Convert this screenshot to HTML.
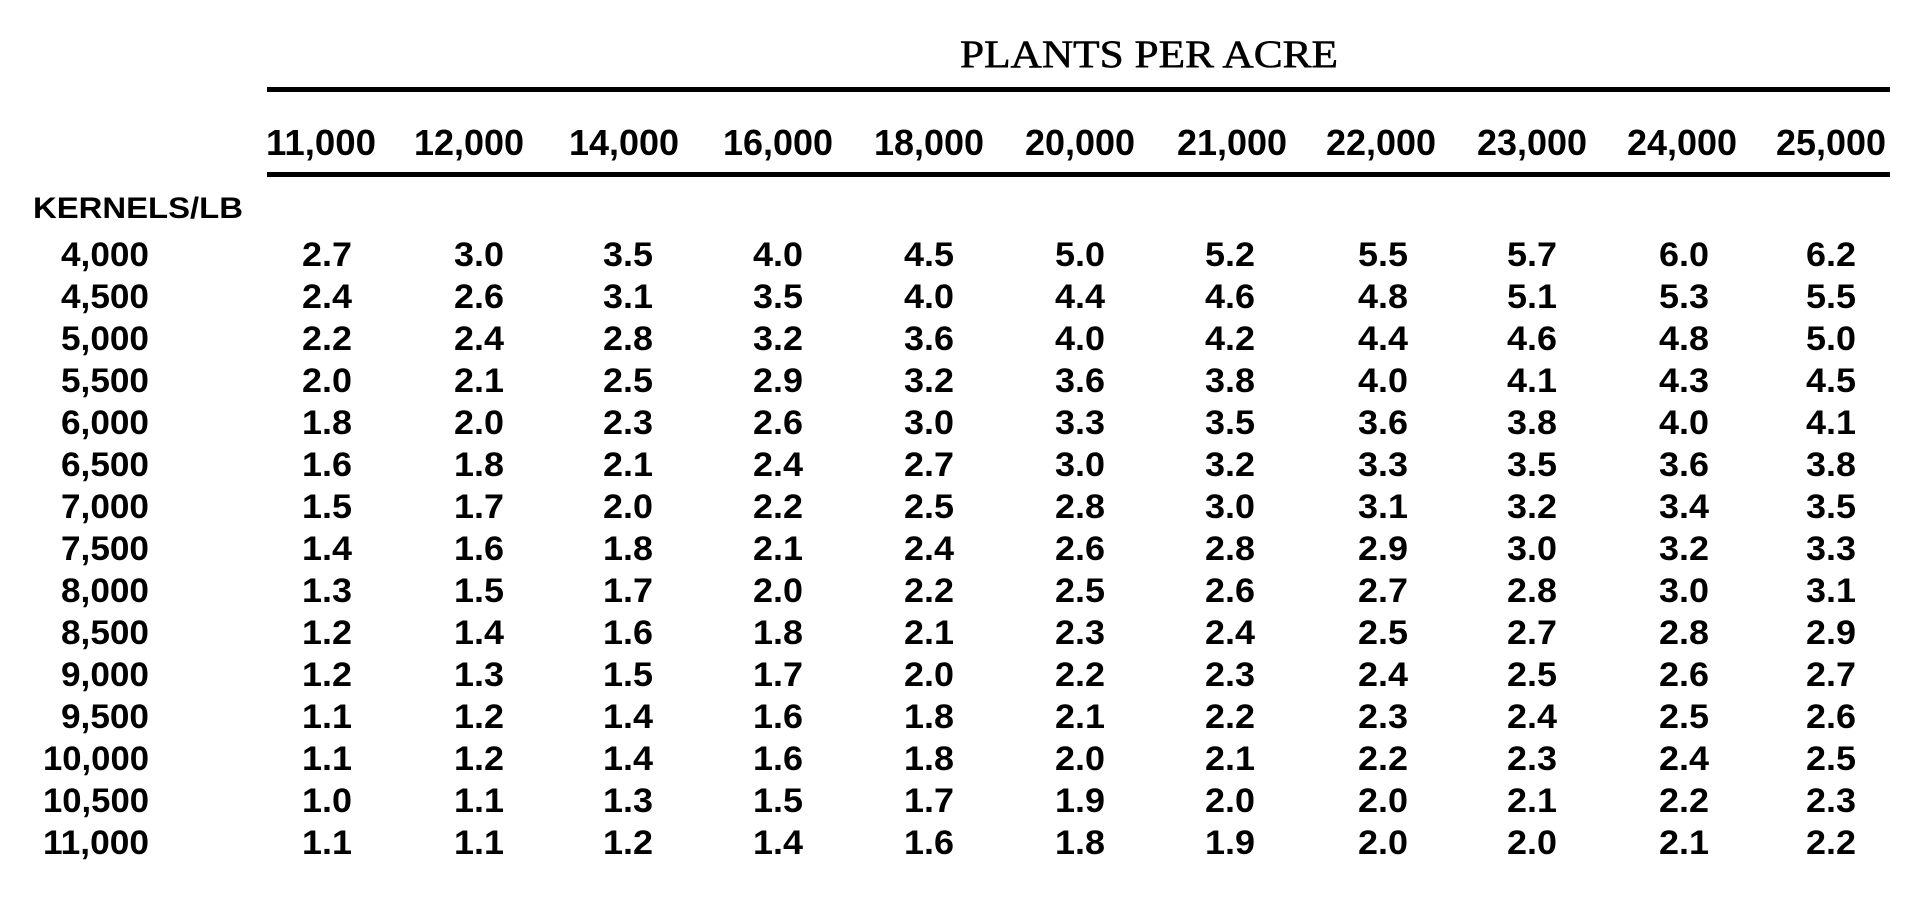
<!DOCTYPE html>
<html><head><meta charset="utf-8"><style>
html,body{margin:0;padding:0;background:#fff;}
svg{display:block;}
.h{font-family:"Liberation Sans",Arial,sans-serif;font-weight:bold;font-size:36px;fill:#000;}
.v{font-family:"Liberation Sans",Arial,sans-serif;font-weight:bold;font-size:34px;fill:#000;}
.t{font-family:"Liberation Serif","Times New Roman",serif;font-size:39px;fill:#000;stroke:#000;stroke-width:0.6px;}
</style></head><body>
<svg width="1926" height="905" viewBox="0 0 1926 905" xmlns="http://www.w3.org/2000/svg">
<text class="t" x="1149" y="67" text-anchor="middle" textLength="378" lengthAdjust="spacingAndGlyphs">PLANTS PER ACRE</text>
<rect x="267" y="87" width="1623" height="5" fill="#000"/>
<rect x="267" y="172" width="1623" height="5" fill="#000"/>
<g class="h" text-anchor="middle">
<text x="321" y="155" textLength="110" lengthAdjust="spacingAndGlyphs">11,000</text>
<text x="469" y="155" textLength="110" lengthAdjust="spacingAndGlyphs">12,000</text>
<text x="624" y="155" textLength="110" lengthAdjust="spacingAndGlyphs">14,000</text>
<text x="778" y="155" textLength="110" lengthAdjust="spacingAndGlyphs">16,000</text>
<text x="929" y="155" textLength="110" lengthAdjust="spacingAndGlyphs">18,000</text>
<text x="1080" y="155" textLength="110" lengthAdjust="spacingAndGlyphs">20,000</text>
<text x="1232" y="155" textLength="110" lengthAdjust="spacingAndGlyphs">21,000</text>
<text x="1381" y="155" textLength="110" lengthAdjust="spacingAndGlyphs">22,000</text>
<text x="1532" y="155" textLength="110" lengthAdjust="spacingAndGlyphs">23,000</text>
<text x="1682" y="155" textLength="110" lengthAdjust="spacingAndGlyphs">24,000</text>
<text x="1831" y="155" textLength="110" lengthAdjust="spacingAndGlyphs">25,000</text>
</g>
<text class="v" x="33" y="218" textLength="210" lengthAdjust="spacingAndGlyphs" style="font-size:30px">KERNELS/LB</text>
<g id="rows"></g>
</svg>
<script>
var labels=["4,000","4,500","5,000","5,500","6,000","6,500","7,000","7,500","8,000","8,500","9,000","9,500","10,000","10,500","11,000"];
var data=[
"2.7 3.0 3.5 4.0 4.5 5.0 5.2 5.5 5.7 6.0 6.2",
"2.4 2.6 3.1 3.5 4.0 4.4 4.6 4.8 5.1 5.3 5.5",
"2.2 2.4 2.8 3.2 3.6 4.0 4.2 4.4 4.6 4.8 5.0",
"2.0 2.1 2.5 2.9 3.2 3.6 3.8 4.0 4.1 4.3 4.5",
"1.8 2.0 2.3 2.6 3.0 3.3 3.5 3.6 3.8 4.0 4.1",
"1.6 1.8 2.1 2.4 2.7 3.0 3.2 3.3 3.5 3.6 3.8",
"1.5 1.7 2.0 2.2 2.5 2.8 3.0 3.1 3.2 3.4 3.5",
"1.4 1.6 1.8 2.1 2.4 2.6 2.8 2.9 3.0 3.2 3.3",
"1.3 1.5 1.7 2.0 2.2 2.5 2.6 2.7 2.8 3.0 3.1",
"1.2 1.4 1.6 1.8 2.1 2.3 2.4 2.5 2.7 2.8 2.9",
"1.2 1.3 1.5 1.7 2.0 2.2 2.3 2.4 2.5 2.6 2.7",
"1.1 1.2 1.4 1.6 1.8 2.1 2.2 2.3 2.4 2.5 2.6",
"1.1 1.2 1.4 1.6 1.8 2.0 2.1 2.2 2.3 2.4 2.5",
"1.0 1.1 1.3 1.5 1.7 1.9 2.0 2.0 2.1 2.2 2.3",
"1.1 1.1 1.2 1.4 1.6 1.8 1.9 2.0 2.0 2.1 2.2"];
var cx=[327,479,628,778,929,1080,1230,1383,1532,1684,1831];
var g=document.getElementById("rows"),ns="http://www.w3.org/2000/svg";
function t(x,y,s,anchor,len){var e=document.createElementNS(ns,"text");e.setAttribute("class","v");e.setAttribute("x",x);e.setAttribute("y",y);e.setAttribute("text-anchor",anchor);if(len){e.setAttribute("textLength",len);e.setAttribute("lengthAdjust","spacingAndGlyphs");}e.textContent=s;g.appendChild(e);}
for(var i=0;i<15;i++){var y=266+i*42;t(149,y,labels[i],"end",labels[i].length==5?88:106);var v=data[i].split(" ");for(var j=0;j<11;j++)t(cx[j],y,v[j],"middle",50);}
</script>
</body></html>
